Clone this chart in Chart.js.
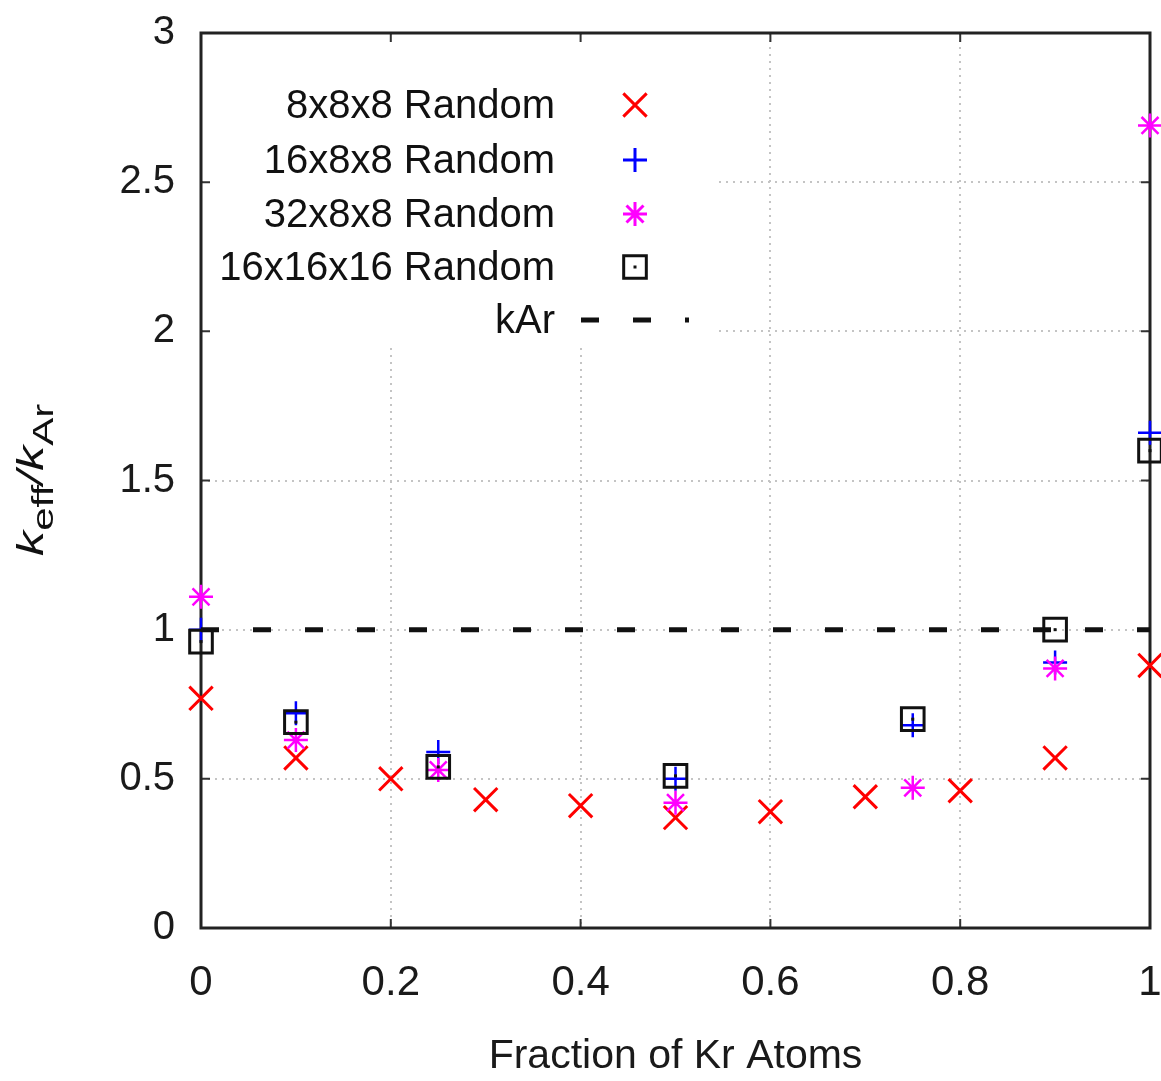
<!DOCTYPE html>
<html>
<head>
<meta charset="utf-8">
<script src="https://cdn.jsdelivr.net/npm/chart.js@4.4.1/dist/chart.umd.min.js"></script>
<style>
html, body { margin: 0; padding: 0; background: #fff; }
#wrap { width: 1161px; height: 1081px; }
</style>
</head>
<body>
<div id="wrap"><canvas id="keffChart"></canvas></div>
<script>
// fraction of Kr atoms
var fracAll = [0, 0.1, 0.2, 0.3, 0.4, 0.5, 0.6, 0.7, 0.8, 0.9, 1];
var frac = [0, 0.1, 0.25, 0.5, 0.75, 0.9, 1];

// keff / kAr
var random8 = [0.77, 0.57, 0.50, 0.43, 0.41, 0.37, 0.39, 0.44, 0.46, 0.57, 0.88];
var random16x8 = [1.00, 0.72, 0.59, 0.50, 0.68, 0.89, 1.66];
var random32x8 = [1.11, 0.63, 0.53, 0.42, 0.47, 0.87, 2.69];
var random16cube = [0.96, 0.69, 0.54, 0.51, 0.70, 1.00, 1.60];
var kArX = [0, 1];
var kArY = [1, 1];

var xTicks = [0, 0.2, 0.4, 0.6, 0.8, 1];
var yTicks = [0, 0.5, 1, 1.5, 2, 2.5, 3];

function pts(xs, ys) {
    return xs.map(function (x, i) { return { x: x, y: ys[i] }; });
}

Chart.defaults.font.family = "'Liberation Sans', Arial, sans-serif";
Chart.defaults.color = '#1a1a1a';

// white box behind the key, frame and inward ticks like gnuplot
var framePlugin = {
    id: 'frame',
    beforeDatasetsDraw: function (chart) {
        var ctx = chart.ctx, ca = chart.chartArea;
        ctx.save();
        ctx.fillStyle = '#fff';
        ctx.fillRect(ca.left + 2, ca.top + 2, 712 - ca.left, 342 - ca.top);

        ctx.strokeStyle = '#333';
        ctx.lineWidth = 2;
        ctx.beginPath();
        chart.scales.x.ticks.forEach(function (t) {
            var px = chart.scales.x.getPixelForValue(t.value);
            ctx.moveTo(px, ca.bottom); ctx.lineTo(px, ca.bottom - 9);
            ctx.moveTo(px, ca.top); ctx.lineTo(px, ca.top + 9);
        });
        chart.scales.y.ticks.forEach(function (t) {
            var py = chart.scales.y.getPixelForValue(t.value);
            ctx.moveTo(ca.left, py); ctx.lineTo(ca.left + 9, py);
            ctx.moveTo(ca.right, py); ctx.lineTo(ca.right - 9, py);
        });
        ctx.stroke();

        ctx.strokeStyle = '#222';
        ctx.lineWidth = 3;
        ctx.strokeRect(ca.left, ca.top, ca.right - ca.left, ca.bottom - ca.top);
        ctx.restore();
    },
    afterDatasetsDraw: function (chart) {
        // small dot in the middle of each square
        var ctx = chart.ctx;
        var meta = chart.getDatasetMeta(3);
        ctx.save();
        ctx.fillStyle = '#111';
        meta.data.forEach(function (p) {
            ctx.fillRect(p.x - 1.5, p.y - 1.5, 3, 3);
        });
        ctx.restore();
    }
};

var keyPlugin = {
    id: 'gnuKey',
    afterDraw: function (chart) {
        var ctx = chart.ctx;
        var rows = [105, 160, 214, 267, 320];
        ctx.save();
        ctx.font = "40px 'Liberation Sans', Arial, sans-serif";
        ctx.textAlign = 'right';
        ctx.textBaseline = 'middle';
        chart.data.datasets.forEach(function (ds, i) {
            var y = rows[i];
            ctx.fillStyle = '#111';
            ctx.fillText(ds.label, 555, y + 2);
            if (ds.showLine) {
                ctx.strokeStyle = ds.borderColor;
                ctx.lineWidth = ds.borderWidth;
                ctx.setLineDash(ds.borderDash);
                ctx.beginPath();
                ctx.moveTo(581, y); ctx.lineTo(689, y);
                ctx.stroke();
                ctx.setLineDash([]);
            } else {
                ctx.strokeStyle = ds.pointBorderColor;
                ctx.fillStyle = 'rgba(0,0,0,0)';
                Chart.helpers.drawPoint(ctx, {
                    pointStyle: ds.pointStyle,
                    radius: ds.pointRadius,
                    borderWidth: ds.pointBorderWidth,
                    rotation: 0
                }, 635, y);
                if (i === 3) {
                    ctx.fillStyle = '#111';
                    ctx.fillRect(633.5, y - 1.5, 3, 3);
                }
            }
        });

        // y axis title: k_eff / k_Ar
        ctx.translate(43, 556);
        ctx.rotate(-Math.PI / 2);
        ctx.scale(1.4, 1);
        ctx.textAlign = 'left';
        ctx.textBaseline = 'alphabetic';
        ctx.fillStyle = '#111';
        var parts = [
            ['k', "italic 36px 'Liberation Sans', sans-serif", 0],
            ['eff', "30px 'Liberation Sans', sans-serif", 10],
            ['/', "italic 36px 'Liberation Sans', sans-serif", 0],
            ['k', "italic 36px 'Liberation Sans', sans-serif", 0],
            ['Ar', "30px 'Liberation Sans', sans-serif", 10]
        ];
        var cx = 0;
        parts.forEach(function (p) {
            ctx.font = p[1];
            ctx.fillText(p[0], cx, p[2]);
            cx += ctx.measureText(p[0]).width;
        });
        ctx.restore();
    }
};

function plainTick(v) { return String(v); }

new Chart(document.getElementById('keffChart'), {
    type: 'scatter',
    data: {
        datasets: [{
            label: '8x8x8 Random',
            data: pts(fracAll, random8),
            pointStyle: 'crossRot',
            pointRadius: 16.5,
            pointBorderWidth: 3,
            pointBorderColor: '#ff0000',
            borderColor: '#ff0000',
            order: 5
        }, {
            label: '16x8x8 Random',
            data: pts(frac, random16x8),
            pointStyle: 'cross',
            pointRadius: 12,
            pointBorderWidth: 2.5,
            pointBorderColor: '#0000ff',
            borderColor: '#0000ff',
            order: 4
        }, {
            label: '32x8x8 Random',
            data: pts(frac, random32x8),
            pointStyle: 'star',
            pointRadius: 12,
            pointBorderWidth: 2.5,
            pointBorderColor: '#ff00ff',
            borderColor: '#ff00ff',
            order: 3
        }, {
            label: '16x16x16 Random',
            data: pts(frac, random16cube),
            pointStyle: 'rect',
            pointRadius: 16,
            pointBorderWidth: 3,
            pointBorderColor: '#111',
            pointBackgroundColor: 'rgba(0,0,0,0)',
            borderColor: '#111',
            order: 2
        }, {
            label: 'kAr',
            data: pts(kArX, kArY),
            showLine: true,
            borderColor: '#111',
            borderWidth: 5,
            borderDash: [18, 34],
            pointRadius: 0,
            order: 1
        }]
    },
    options: {
        responsive: true,
        maintainAspectRatio: false,
        animation: false,
        events: [],
        clip: false,
        layout: { autoPadding: false, padding: { top: 33, right: 11, left: 0, bottom: 0 } },
        plugins: {
            legend: { display: false },
            tooltip: { enabled: false }
        },
        scales: {
            x: {
                type: 'linear',
                min: 0,
                max: 1,
                afterBuildTicks: function (s) { s.ticks = xTicks.map(function (v) { return { value: v }; }); },
                afterFit: function (s) {
                    s.height = 153;
                    s.paddingLeft = 0; s.paddingRight = 0;
                },
                grid: { color: '#c4c4c4', lineWidth: 2, drawTicks: false },
                border: { display: false, dash: [2, 5] },
                ticks: {
                    padding: 30,
                    maxRotation: 0,
                    callback: plainTick,
                    font: { size: 42 }
                },
                title: {
                    display: true,
                    text: 'Fraction of Kr Atoms',
                    padding: { top: 0, bottom: 0 },
                    font: { size: 41 }
                }
            },
            y: {
                type: 'linear',
                min: 0,
                max: 3,
                afterBuildTicks: function (s) { s.ticks = yTicks.map(function (v) { return { value: v }; }); },
                afterFit: function (s) {
                    s.width = 201;
                    s.paddingTop = 0; s.paddingBottom = 0;
                },
                grid: { color: '#c4c4c4', lineWidth: 2, drawTicks: false },
                border: { display: false, dash: [2, 5] },
                ticks: {
                    padding: 26,
                    callback: plainTick,
                    font: { size: 40 }
                }
            }
        }
    },
    plugins: [framePlugin, keyPlugin]
});
</script>
</body>
</html>
